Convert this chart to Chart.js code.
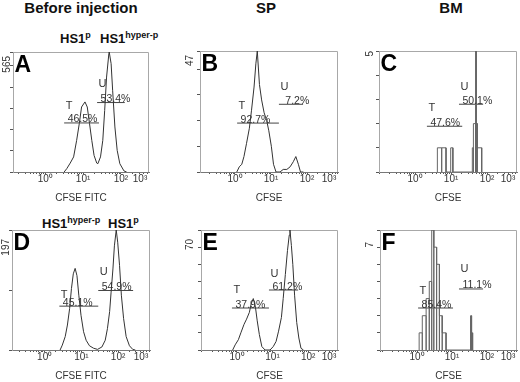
<!DOCTYPE html>
<html><head><meta charset="utf-8">
<script src="https://cdn.jsdelivr.net/npm/chart.js@4.4.1/dist/chart.umd.min.js"></script>
<style>
html,body{margin:0;padding:0;background:#fff;}
#fig{position:relative;width:520px;height:382px;overflow:hidden;background:#fff;font-family:'Liberation Sans',Arial,sans-serif;}
#fig canvas{position:absolute;}
.col{position:absolute;top:-1px;font-weight:bold;font-size:15px;line-height:18px;color:#111;transform:translateX(-50%);white-space:nowrap;}
.hdr{position:absolute;font-weight:bold;font-size:13px;line-height:14px;color:#111;white-space:nowrap;}
.hdr sup{font-size:9px;vertical-align:5px;line-height:0;}
</style></head><body><div id="fig">
<div class="col" style="left:81px">Before injection</div>
<div class="col" style="left:266px">SP</div>
<div class="col" style="left:451px">BM</div>
<div class="hdr" style="left:60px;top:32px">HS1<sup>p</sup></div>
<div class="hdr" style="left:100px;top:32px">HS1<sup>hyper-p</sup></div>
<div class="hdr" style="left:42px;top:217px">HS1<sup>hyper-p</sup></div>
<div class="hdr" style="left:108px;top:217px">HS1<sup>p</sup></div>
</div>
<script>
const FONT = "'Liberation Sans', Arial, sans-serif";
const tickLabels = ['10\u2070', '10\u00B9', '10\u00B2', '10\u00B3'];

// CFSE intensity as log10 units, counts per channel
const aLog = [0.50,0.57,0.66,0.75,0.83,0.90,0.96,1.05,1.11,1.17,1.23,1.29,1.36,1.39,1.46,1.52,1.57,1.62,1.68,1.69,1.74,1.78,1.84,1.90,1.97,2.08,2.15];
const aCount = [0,16,42,71,149,228,306,330,306,228,149,78,42,39,71,149,290,447,557,565,510,385,212,102,39,5,0];

const bLog = [0.05,0.12,0.19,0.25,0.32,0.40,0.46,0.53,0.58,0.62,0.68,0.74,0.81,0.88,0.94,1.01,1.07,1.14,1.25,1.34,1.44,1.53,1.62,1.69,1.76,1.82,1.90];
const bCount = [0,2,3,6,11,17,24,33,42,47,34,28,23,20,16,10,3,0,0,1,1,2,4,6,3,0,0];

const cEdges = [0.62,0.74,0.86,0.99,1.05,1.59,1.62,1.68,1.70,1.73,1.85];
const cCounts = [1,1,0,1,0,1,2,5,2,1];

const dLog = [0.42,0.48,0.56,0.62,0.68,0.73,0.78,0.83,0.88,0.93,0.99,1.06,1.13,1.22,1.33,1.44,1.56,1.65,1.71,1.77,1.81,1.86,1.90,1.95,1.99,2.04,2.09,2.15,2.22,2.31,2.40,2.47];
const dCount = [0,8,22,41,68,101,125,134,122,90,57,30,16,7,3,1,5,16,35,63,95,133,171,197,177,139,90,52,22,7,1,0];

const eLog = [-0.12,-0.05,0.04,0.11,0.20,0.27,0.35,0.40,0.46,0.52,0.57,0.63,0.70,0.79,0.93,1.02,1.10,1.17,1.25,1.30,1.36,1.42,1.47,1.49,1.53,1.57,1.62,1.68,1.74,1.80,1.87];
const eCount = [0,3,6,10,15,18,22,27,30,25,17,9,2,0,0,2,5,11,19,30,44,58,67,70,61,50,32,16,7,1,0];

const fEdges = [0.06,0.15,0.26,0.35,0.42,0.48,0.56,0.64,0.72,0.83,1.53,1.56,1.59];
const fCounts = [1,2,3,4,7,6,5,2,1,0,2,1];

// gates: [name, from (log10), to (log10), marker level (count), percentage]
const gatesA = [['T',0.50,1.42,231,'46.5%'],['U',1.37,2.10,327,'53.4%']];
const gatesB = [['T',0.06,1.22,19,'92.7%'],['U',1.22,1.89,26.3,'7.2%']];
const gatesC = [['T',0.33,1.31,1.89,'47.6%'],['U',1.22,1.89,2.8,'50.1%']];
const gatesD = [['T',0.40,1.46,72,'45.1%'],['U',1.46,2.41,97.7,'54.9%']];
const gatesE = [['T',-0.14,0.90,24.5,'37.9%'],['U',0.90,1.72,35,'61.2%']];
const gatesF = [['T',0.03,1.03,2.45,'85.4%'],['U',1.20,1.89,3.56,'11.1%']];

const yMaxes = [565, 47, 5, 197, 70, 7];
const ySteps = [100, 10, 1, 100, 10, 1];

const panels = [
  {letter:'A', box:[13,52,149,172], range:[-0.85,2.74], xTitle:'CFSE FITC', line:[aLog,aCount], gates:gatesA, yLab:[3,4], lift:[14.3,15.7]},
  {letter:'B', box:[200,51,338,172], range:[-0.97,2.86], xTitle:'CFSE', line:[bLog,bCount], gates:gatesB, yLab:[7,4], lift:[14.3,14.7]},
  {letter:'C', box:[379,51,517,172], range:[-1.0,2.83], xTitle:'CFSE', bars:[cEdges,cCounts], gates:gatesC, yLab:[6,0], lift:[15,14.7]},
  {letter:'D', box:[12,230,150,350], range:[-0.89,2.87], xTitle:'CFSE FITC', line:[dLog,dCount], gates:gatesD, yLab:[3,9], lift:[8,15]},
  {letter:'E', box:[201,230,338,350], range:[-1.01,2.84], xTitle:'CFSE', line:[eLog,eCount], gates:gatesE, yLab:[8,9], lift:[15,13.3]},
  {letter:'F', box:[380,230,517,350], range:[-1.06,2.86], xTitle:'CFSE', bars:[fEdges,fCounts], gates:gatesF, yLab:[7,12], lift:[14,17]}
];

function barOutline(edges, counts) {
  const pts = [];
  for (let i = 0; i < counts.length; i++) {
    if (!counts[i]) continue;
    pts.push({x:edges[i],y:0},{x:edges[i],y:counts[i]},{x:edges[i+1],y:counts[i]},{x:edges[i+1],y:0});
  }
  return pts;
}

function buildTicks(min, max, l, r) {
  const out = [];
  for (let d = -2; d <= 3; d++) {
    for (let k = 1; k <= 9; k++) {
      const v = d + Math.log10(k);
      if (v >= min && v <= max) out.push({value:v, txt:(k === 1 && d >= 0 && d <= 2) ? tickLabels[d] : ''});
    }
  }
  out.push({value: max - 9 * (max - min) / (r - l), txt: tickLabels[3], ghost: true});
  out.sort((a, b) => a.value - b.value);
  return out;
}

const fig = document.getElementById('fig');
panels.forEach((p, idx) => {
  const [l, t, r, b] = p.box;
  const yW = Math.min(l, 22), padTop = 6, xH = 34, padRight = 8;
  const cv = document.createElement('canvas');
  const W = (r - l) + yW + padRight, H = (b - t) + padTop + xH;
  cv.width = W; cv.height = H;
  cv.style.left = (l - yW) + 'px'; cv.style.top = (t - padTop) + 'px';
  cv.style.width = W + 'px'; cv.style.height = H + 'px';
  fig.appendChild(cv);

  const datasets = [];
  if (p.line) {
    datasets.push({data: p.line[0].map((v, i) => ({x:v, y:p.line[1][i]})), borderColor:'#333', borderWidth:1, pointRadius:0, tension:0});
  } else {
    datasets.push({data: barOutline(p.bars[0], p.bars[1]), borderColor:'#666', borderWidth:1, pointRadius:0, tension:0});
  }
  p.gates.forEach(g => {
    datasets.push({data:[{x:g[1],y:g[3]},{x:g[2],y:g[3]}], borderColor:'#444', borderWidth:1, pointRadius:0});
  });

  const yMax = yMaxes[idx];
  const decor = {
    id: 'decor' + p.letter,
    beforeDatasetsDraw(chart) {
      const {ctx, chartArea: ca} = chart;
      ctx.save();
      ctx.strokeStyle = '#a8a8a8'; ctx.lineWidth = 1;
      ctx.beginPath();
      ctx.moveTo(ca.left, ca.top + 0.5);
      ctx.lineTo(ca.right - 0.5, ca.top + 0.5);
      ctx.lineTo(ca.right - 0.5, ca.bottom);
      ctx.stroke();
      ctx.restore();
    },
    afterDatasetsDraw(chart) {
      const {ctx, chartArea: ca, scales: {x, y}} = chart;
      ctx.save();
      ctx.fillStyle = '#000';
      ctx.font = 'bold 23px ' + FONT;
      ctx.textAlign = 'left'; ctx.textBaseline = 'alphabetic';
      ctx.fillText(p.letter, ca.left + 1.5, ca.top + 20);
      ctx.fillStyle = '#333';
      p.gates.forEach(g => {
        const x1 = x.getPixelForValue(g[1]);
        const yy = y.getPixelForValue(g[3]);
        ctx.font = '11px ' + FONT;
        ctx.fillText(g[0], x1 + 1.5, yy - (g[0] === 'T' ? p.lift[0] : p.lift[1]));
        ctx.font = '10.5px ' + FONT;
        ctx.fillText(g[4].padStart(5, ' '), x1 + 3.5, yy - 0.5);
      });
      ctx.font = '10px ' + FONT;
      ctx.translate(ca.left - p.yLab[0], ca.top + p.yLab[1]);
      ctx.rotate(-Math.PI / 2);
      ctx.textAlign = 'right';
      ctx.fillText(String(yMax), 0, 0);
      ctx.restore();
    }
  };

  new Chart(cv, {
    type: 'line',
    data: {datasets},
    options: {
      responsive: false, animation: false, devicePixelRatio: 1,
      layout: {padding: {left: 0, top: padTop, right: padRight, bottom: 0}},
      plugins: {legend: {display: false}, tooltip: {enabled: false}},
      scales: {
        x: {
          type: 'linear', min: p.range[0], max: p.range[1],
          afterBuildTicks: s => { s.ticks = buildTicks(p.range[0], p.range[1], l, r); },
          ticks: {autoSkip: false, maxRotation: 0, minRotation: 0, padding: -1, color: '#333',
            font: {size: 10, family: FONT},
            callback: (v, i, ticks) => ticks[i].txt},
          grid: {drawOnChartArea: false, tickLength: 2, tickColor: c => (c.tick && c.tick.ghost) ? 'rgba(0,0,0,0)' : '#555'},
          border: {color: '#777'},
          title: {display: true, text: p.xTitle, color: '#333', font: {size: 10, family: FONT}, padding: {top: 0, bottom: 2}},
          afterFit: s => { s.height = xH; }
        },
        y: {
          type: 'linear', min: 0, max: yMax,
          ticks: {display: false, stepSize: ySteps[idx]},
          grid: {drawOnChartArea: false, tickLength: 3, tickColor: '#555'},
          border: {color: '#a8a8a8'},
          afterFit: s => { s.width = yW; }
        }
      }
    },
    plugins: [decor]
  });
});
</script></body></html>
